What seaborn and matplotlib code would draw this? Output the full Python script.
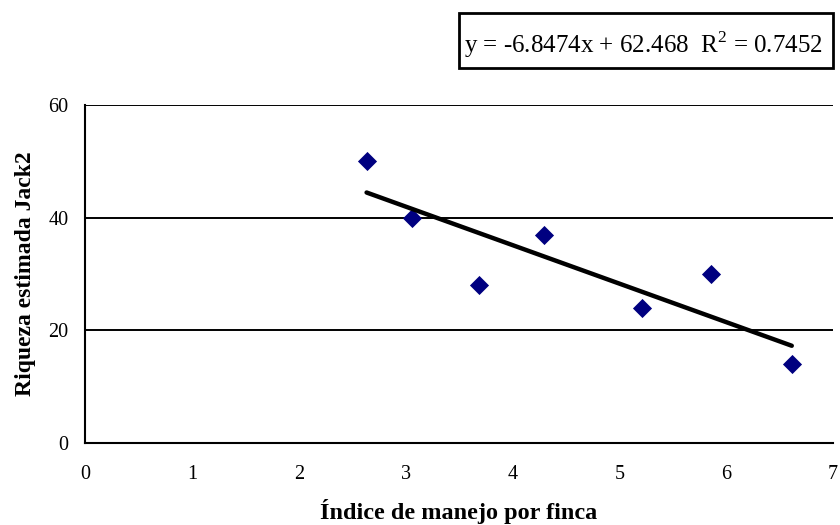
import numpy as np
import pandas as pd
import matplotlib
matplotlib.use("Agg")
import matplotlib.pyplot as plt
from matplotlib.patches import Rectangle
import seaborn as sns

# data
indice = [2.635, 3.056, 3.689, 4.291, 5.213, 5.856, 6.614]
riqueza = [50, 40, 28, 37, 24, 30, 14]
x_ticks = [0, 1, 2, 3, 4, 5, 6, 7]
y_ticks = [0, 20, 40, 60]
eq_text = "y = -6.8474x + 62.468  R$^2$ = 0.7452"

df = pd.DataFrame({"indice": indice, "riqueza": riqueza})

sns.set_style("white")
plt.rcParams["font.family"] = ["Liberation Serif", "DejaVu Serif"]
plt.rcParams["mathtext.fontset"] = "custom"
plt.rcParams["mathtext.rm"] = "Liberation Serif"
for key in ["text.color", "axes.labelcolor", "xtick.color", "ytick.color"]:
    plt.rcParams[key] = "black"

fig = plt.figure(figsize=(8.4, 5.25), dpi=100)
ax = fig.add_axes([0.1012, 0.1562, 0.8905, 0.6438])

ax.yaxis.grid(True, color="black", linewidth=1.4)
ax.set_axisbelow(True)

sns.regplot(data=df, x="indice", y="riqueza", ax=ax, ci=None,
            marker="D",
            scatter_kws={"color": "#000080", "s": 95, "alpha": 1, "zorder": 3, "linewidths": 0},
            line_kws={"color": "black", "linewidth": 3.2, "zorder": 4})

ax.set_xlim(0, 7)
ax.set_ylim(0, 60)
ax.set_xticks(x_ticks)
ax.set_yticks(y_ticks)
ax.tick_params(axis="both", labelsize=14.5, direction="out", length=5, width=1.3,
               color="black")
ax.tick_params(axis="x", pad=11)
ax.tick_params(axis="y", pad=7)

for s in ["top", "right"]:
    ax.spines[s].set_visible(False)
for s in ["left", "bottom"]:
    ax.spines[s].set_color("black")
    ax.spines[s].set_linewidth(1.5)

ax.set_xlabel("Índice de manejo por finca", fontsize=17.5, fontweight="bold", labelpad=11)
ax.set_ylabel("Riqueza estimada Jack2", fontsize=17, fontweight="bold", labelpad=9)

# equation box (Excel-style trendline label)
fig.patches.append(Rectangle((459 / 840, 1 - 68 / 525), 374 / 840, 55 / 525,
                             transform=fig.transFigure, facecolor="white",
                             edgecolor="black", linewidth=2))
fig.text(464 / 840, 1 - 53 / 525, eq_text, fontsize=18, ha="left", va="baseline")

fig.savefig("out.png", dpi=100)
